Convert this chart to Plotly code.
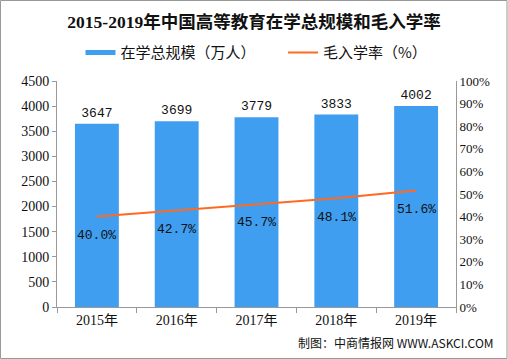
import plotly.graph_objects as go

years = ["2015年", "2016年", "2017年", "2018年", "2019年"]
enrollment = [3647, 3699, 3779, 3833, 4002]
gross_rate = [40.0, 42.7, 45.7, 48.1, 51.6]
left_ticks = [0, 500, 1000, 1500, 2000, 2500, 3000, 3500, 4000, 4500]
right_ticks = [0, 10, 20, 30, 40, 50, 60, 70, 80, 90, 100]

BLUE = "#409EF0"
ORANGE = "#FF6A22"
FONT = "Liberation Serif, Noto Sans CJK SC, serif"
MONO = "Liberation Mono, Noto Sans CJK SC, monospace"
CJK = "Noto Sans CJK SC"

fig = go.Figure()
fig.add_trace(go.Bar(
    x=years, y=enrollment, name="在学总规模（万人）", showlegend=False,
    marker=dict(color=BLUE, line=dict(width=0)),
    text=[str(v) for v in enrollment], textposition="outside",
    textfont=dict(family=MONO, size=13, color="#111111"),
    cliponaxis=False, width=0.55,
))
# legend-only entry drawn as a thick line like the reference
fig.add_trace(go.Scatter(
    x=[None], y=[None], name="在学总规模（万人）　　", mode="lines",
    line=dict(color=BLUE, width=5), showlegend=True,
))
fig.add_trace(go.Scatter(
    x=years, y=gross_rate, name="毛入学率（%）", yaxis="y2",
    mode="lines", line=dict(color=ORANGE, width=2),
))
for yr, v in zip(years, gross_rate):
    fig.add_annotation(x=yr, y=v, xref="x", yref="y2", text=f"{v:.1f}%",
                       showarrow=False, yshift=-19,
                       font=dict(family=MONO, size=13, color="#111111"))

fig.update_layout(
    width=508, height=359,
    margin=dict(l=57, r=52, t=81, b=52),
    paper_bgcolor="white", plot_bgcolor="white",
    font=dict(family=FONT, size=13, color="#111111"),
    title=dict(text="<b>2015-2019年中国高等教育在学总规模和毛入学率</b>",
               x=0.5, xanchor="center", y=0.94, yanchor="middle",
               font=dict(family=FONT, size=17.5, color="#111111")),
    legend=dict(orientation="h", x=0.5, xanchor="center", y=1.125, yanchor="middle",
                font=dict(family=CJK, size=15, color="#111111"),
                itemwidth=30, tracegroupgap=0, bgcolor="rgba(0,0,0,0)"),
    showlegend=True,
    bargap=0.45,
    xaxis=dict(showline=True, linecolor="#999999", linewidth=1,
               ticks="outside", tickson="boundaries", ticklen=5, tickcolor="#999999",
               tickfont=dict(family=FONT, size=14), showgrid=False),
    yaxis=dict(range=[0, 4500], tickvals=left_ticks, showline=True, linecolor="#999999",
               linewidth=1, ticks="outside", ticklen=4, tickcolor="#999999",
               showgrid=False, zeroline=False, tickfont=dict(family=FONT, size=14)),
    yaxis2=dict(range=[0, 100], tickvals=right_ticks, ticktext=[f"{t}%" for t in right_ticks],
                overlaying="y", side="right", showline=True, linecolor="#999999", linewidth=1,
                ticks="", showgrid=False, zeroline=False,
                tickfont=dict(family=FONT, size=13)),
)

fig.add_annotation(text="制图：中商情报网 WWW.ASKCI.COM", xref="paper", yref="paper",
                   x=1.1, xanchor="right", y=-0.155, yanchor="middle", showarrow=False,
                   font=dict(family="Noto Sans CJK SC", size=12, color="#111111"))
fig.add_shape(type="rect", xref="paper", yref="paper",
              x0=-56.5/399, x1=1 + 51/399, y0=-51.5/226, y1=1 + 80.5/226,
              line=dict(color="#999999", width=1))

fig.write_html("out.html", config={"displayModeBar": False},
               post_script="document.body.style.margin='0';document.body.style.overflow='hidden';")
